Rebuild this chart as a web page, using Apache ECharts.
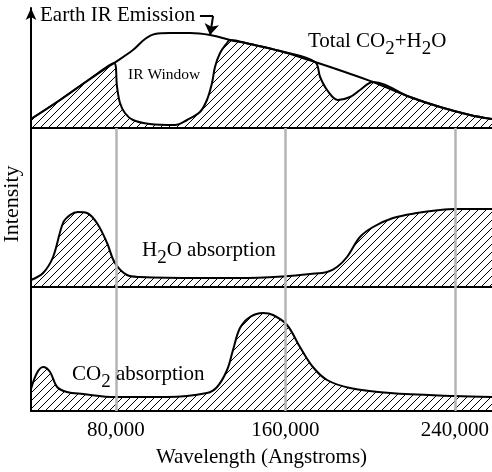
<!DOCTYPE html>
<html>
<head>
<meta charset="utf-8">
<script src="https://cdn.jsdelivr.net/npm/echarts@6/dist/echarts.min.js"></script>
<style>
html,body{margin:0;padding:0;background:#fff;}
#c{width:492px;height:472px;}
</style>
</head>
<body>
<div id="c"></div>
<script>
// ---------- data (wavelength in Angstroms, intensity in arbitrary units) ----------
const emissionX = [40000,53700,67800,79200,88100,93800,98500,105600,115000,124500,133900,143300,157500,174000,188100,201400,218800,233000,247100,257500];
const emissionY = [9,28,49,65,78,89,94,95,95,93,88,84,77,66,56,46,31,21,13,9];

const totalX = [40000,53700,67800,79200,80600,82000,84300,88100,96100,107900,113600,119700,123000,125400,126800,129200,132500,133900,143300,157500,174000,176400,179700,184800,190500,195200,201400,218800,233000,247100,257500];
const totalY = [9,28,49,65,41,25,15,8,4,3,8,16,28,45,61,75,85,88,84,77,66,51,38,28,31,38,46,31,21,13,9];

const h2oX = [40000,45700,50400,55100,58400,62200,66400,71100,75900,79600,85300,91400,119700,138600,161700,171600,179700,184400,189100,195200,201400,210800,222100,233000,240000,257500];
const h2oY = [7,14,30,64,72,75,74,64,44,24,12,10,9,9,11,13,15,20,30,50,60,69,74,77,78,78];

const co2X = [40000,42800,45700,49000,52300,57000,64500,79600,104200,123000,127800,132500,135300,138600,143300,149500,154200,160800,166900,173000,179700,190500,209400,240000,257500];
const co2Y = [22,38,44,39,24,19,17,14,14,18,24,41,61,83,94,98,96,86,64,44,31,23,18,15,14];

// annotation pointer "Earth IR Emission" (horizontal stub, then arrow down to the curve)
const pointerX = [119700,125900,124500];
const pointerY = [112,112,93];

const tickValues = [80000,160000,240000];
const xMin = 40000, xMax = 257500;

const panelMax = [120,159,124];

const xName = 'Wavelength (Angstroms)';
const yName = 'Intensity';

// ---------- helpers ----------
const FONT = '"Liberation Serif","Times New Roman",serif';
function pairs(xs, ys){ return xs.map((x,i)=>[x,ys[i]]); }

function hatchCanvas(){
  const s = 8;
  const c = document.createElement('canvas');
  c.width = s; c.height = s;
  const g = c.getContext('2d');
  g.strokeStyle = '#000'; g.lineWidth = 1;
  g.beginPath();
  g.moveTo(-1, s+1); g.lineTo(s+1, -1);
  g.moveTo(-1, 1); g.lineTo(1, -1);
  g.moveTo(s-1, s+1); g.lineTo(s+1, s-1);
  g.stroke();
  return c;
}
const hatch = {image: hatchCanvas(), repeat: 'repeat'};

const mctx = document.createElement('canvas').getContext('2d');
function textW(t, size){ mctx.font = size + 'px ' + FONT; return mctx.measureText(t).width; }

// parts: [text, isSub]
function richLabel(parts, x, baseline, size, subSize, subDrop){
  const els = [];
  let cx = x;
  parts.forEach(([t, sub])=>{
    const fs = sub ? subSize : size;
    const bl = sub ? baseline + subDrop : baseline;
    els.push({
      type: 'text', x: cx, y: bl - 0.33*fs, z: 100,
      style: {text: t, font: fs + 'px ' + FONT, fill: '#000', align: 'left', verticalAlign: 'middle'}
    });
    cx += textW(t, fs);
  });
  return els;
}

const graphics = [].concat(
  richLabel([['Earth IR Emission', false]], 40, 22, 21, 19, 7.5),
  richLabel([['IR Window', false]], 128, 80, 15.5, 14, 6),
  richLabel([['Total CO',false],['2',true],['+H',false],['2',true],['O',false]], 308, 48, 21, 19, 7.5),
  richLabel([['H',false],['2',true],['O absorption',false]], 142, 257, 21, 19, 7.5),
  richLabel([['CO',false],['2',true],[' absorption',false]], 72, 381, 21, 19, 7.5),
  [{
    type: 'text', x: 12, y: 204, rotation: Math.PI/2, z: 100,
    style: {text: yName, font: '22px ' + FONT, fill: '#000', align: 'center', verticalAlign: 'middle'}
  }]
);

// ---------- chart ----------
const chart = echarts.init(document.getElementById('c'), null, {renderer: 'canvas'});

const gridTops = [8,128,287];
const grids = panelMax.map((h,i)=>({left: 31, right: 0, top: gridTops[i], height: h, outerBoundsMode: 'none', containLabel: false}));

const xAxes = [0,1,2].map(i=>({
  type: 'value', gridIndex: i, min: xMin, max: xMax,
  axisLine: {show: true, onZero: false, lineStyle: {color: '#000', width: 2}},
  axisTick: {show: false},
  splitLine: {show: false},
  axisLabel: i === 2 ? {
    show: true, customValues: tickValues, margin: 9,
    formatter: v => v.toLocaleString('en-US'),
    fontFamily: FONT, fontSize: 21, color: '#000'
  } : {show: false},
  name: i === 2 ? xName : '',
  nameLocation: 'middle', nameGap: 36,
  nameTextStyle: {fontFamily: FONT, fontSize: 21, color: '#000'}
}));

const yAxes = [0,1,2].map(i=>({
  type: 'value', gridIndex: i, min: 0, max: panelMax[i],
  axisLine: {show: true, onZero: false, lineStyle: {color: '#000', width: 2},
             symbol: i === 0 ? ['none','arrow'] : ['none','none'], symbolSize: [8, 12]},
  axisTick: {show: false}, axisLabel: {show: false}, splitLine: {show: false}
}));

const curveStyle = {color: '#000', width: 2};
const gridMark = {
  silent: true, symbol: ['none','none'], label: {show: false}, z: 10,
  lineStyle: {color: '#b4b4b4', type: 'solid', width: 2.5, opacity: 1},
  emphasis: {disabled: true},
  data: tickValues.map(v=>({xAxis: v}))
};

const ptr = pairs(pointerX, pointerY);

chart.setOption({
  animation: false,
  backgroundColor: '#fff',
  grid: grids,
  xAxis: xAxes,
  yAxis: yAxes,
  series: [
    {type: 'line', name: 'Total CO2+H2O', xAxisIndex: 0, yAxisIndex: 0,
     data: pairs(totalX, totalY), smooth: 0.35, showSymbol: false, symbol: 'none',
     lineStyle: curveStyle, areaStyle: {color: hatch, opacity: 1}, z: 2},
    {type: 'line', name: 'Earth IR Emission', xAxisIndex: 0, yAxisIndex: 0,
     data: pairs(emissionX, emissionY), smooth: 0.35, showSymbol: false, symbol: 'none',
     lineStyle: curveStyle, z: 3},
    {type: 'lines', coordinateSystem: 'cartesian2d', xAxisIndex: 0, yAxisIndex: 0,
     symbol: ['none','none'],
     lineStyle: {color: '#000', width: 2, opacity: 1},
     data: [{coords: [ptr[0], ptr[1]]}], z: 4},
    {type: 'lines', coordinateSystem: 'cartesian2d', xAxisIndex: 0, yAxisIndex: 0,
     symbol: ['none','arrow'], symbolSize: [9, 11],
     lineStyle: {color: '#000', width: 2, opacity: 1},
     data: [{coords: [ptr[1], ptr[2]]}], z: 4},
    {type: 'line', name: 'H2O absorption', xAxisIndex: 1, yAxisIndex: 1,
     data: pairs(h2oX, h2oY), smooth: 0.35, showSymbol: false, symbol: 'none',
     lineStyle: curveStyle, areaStyle: {color: hatch, opacity: 1}, markLine: gridMark, z: 2},
    {type: 'line', name: 'CO2 absorption', xAxisIndex: 2, yAxisIndex: 2,
     data: pairs(co2X, co2Y), smooth: 0.35, showSymbol: false, symbol: 'none',
     lineStyle: curveStyle, areaStyle: {color: hatch, opacity: 1}, markLine: gridMark, z: 2}
  ],
  graphic: graphics
});
</script>
</body>
</html>
